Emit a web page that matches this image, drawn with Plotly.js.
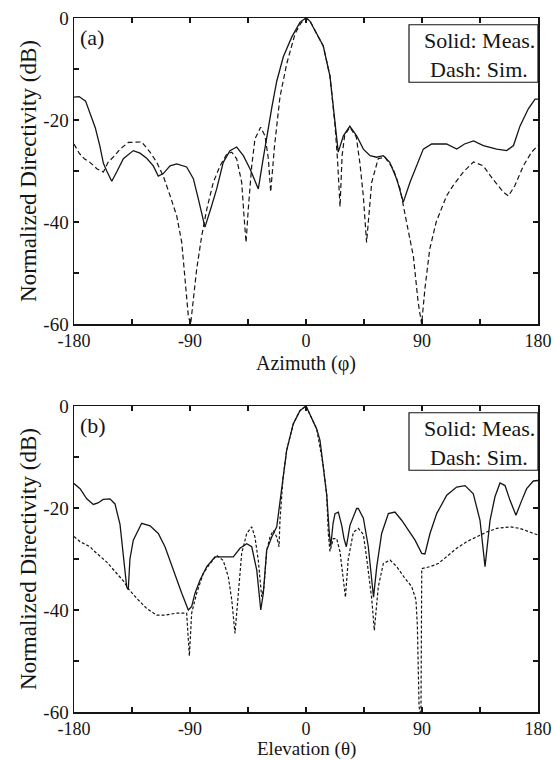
<!DOCTYPE html>
<html>
<head>
<meta charset="utf-8">
<script src="https://cdn.plot.ly/plotly-3.0.1.min.js"></script>
<style>html,body{margin:0;padding:0;background:#fff;}</style>
</head>
<body>
<div id="chart" style="width:555px;height:760px;"></div>
<script>
// ---------- Data ----------
const xAzMeas = [-180,-176,-171,-167.6,-163.5,-160,-157.2,-154.6,-150.7,-146.9,-141.7,-134,-128.8,-123.6,-118.5,-114.6,-110.7,-105.5,-100.3,-92.6,-87.4,-83.5,-78.4,-73.2,-69.3,-64.2,-59,-53.8,-48.6,-43.4,-37,-33.5,-30,-26.5,-22.7,-17.6,-11,-4.6,0,3,8.3,13.4,18.6,22.5,25,29,34,39.3,44.5,49.7,54.8,60,65,70.4,75.5,80.7,86,91,97.5,109,117,123,130,137.6,148,155.7,161,166,172.5,177.7,180];
const yAzMeas = [-15.5,-15.4,-16.3,-18.5,-21.5,-25,-28.5,-30,-32,-30.2,-27.6,-26,-26.5,-27.5,-29,-31,-30.5,-29,-28.6,-29.2,-31.5,-35.5,-41,-36.8,-33.5,-28.3,-26,-25.3,-27,-29.6,-33.5,-28,-22.5,-17.5,-12.4,-7.6,-3.7,-0.8,0,-0.6,-3.1,-5.5,-11.4,-21.2,-26.3,-23.1,-21.2,-23.1,-25.7,-27,-27.3,-27,-28.3,-31.6,-36.1,-32.2,-29,-25.7,-24.7,-24.7,-25.7,-24.7,-24.1,-25,-25.7,-26,-25,-21.2,-17.8,-15.9,-15.9];

const xAzSim = [-180,-176,-172,-167.6,-162,-157.2,-153.6,-148.5,-144.3,-137.8,-127.5,-121,-115.8,-110.7,-105.5,-100.3,-96.4,-93.9,-91.3,-89.5,-87.4,-84.8,-80.9,-77,-71.9,-66.7,-61.5,-57.6,-53.8,-49.9,-48.1,-46.5,-44.8,-42.1,-39.6,-35.2,-31.8,-29.2,-27.4,-25.8,-24.5,-20.2,-15,-8.5,-4,0,3,8.3,13.4,18.6,22.5,24.5,26.4,28,30,34,39,41.9,44.5,47,49,51,56,61.3,67.7,73,78,83.3,87,89.7,92.3,96,101,109,114,122,130,137.6,145,153,157,162,168.6,175,180];
const yAzSim = [-24.7,-26.5,-27.6,-28.3,-29.6,-30.2,-28.3,-27,-25.7,-24.4,-24.3,-26.3,-28.3,-31,-34.8,-38.8,-44,-50.6,-58.4,-60,-55.7,-49.2,-42.7,-37.5,-32.2,-29,-26.7,-26.3,-27.6,-32.2,-38.8,-44,-37.5,-29,-23.7,-21.4,-23.1,-27.6,-34.1,-29.6,-25.3,-15.5,-9,-3.1,-1,0,-0.5,-3.1,-5.5,-11.4,-21,-28,-37,-27,-23,-21.4,-23.3,-28.6,-35,-44,-38,-32.2,-27.6,-27.3,-29.6,-33.5,-40,-46.7,-55.7,-60,-53,-45.3,-40,-34.9,-32.9,-30.2,-28.2,-29,-31.6,-34.1,-34.9,-32.9,-29,-26.3,-25];

const xElMeas = [-180,-175.3,-170.1,-165,-161.4,-157.3,-152.1,-148.2,-144.3,-141.7,-139.1,-137.9,-136.6,-134,-127.5,-121,-114.6,-109.4,-103,-96.4,-91.3,-88.7,-86.1,-82.2,-77,-70.6,-65.4,-56.4,-51.2,-46,-42.1,-38.2,-35.1,-33.1,-30.5,-26.6,-22.7,-18.9,-15,-9.9,-4.7,0,3.1,8.3,10.9,13.4,16.1,18.1,19.2,21,22.5,25.1,27.7,29.5,31.3,34.1,35.5,39.3,40.6,44.5,48.3,51,52.4,54.9,58.7,63.9,69,74.2,79.4,84.6,89.8,92.3,96.2,101.4,109.2,116.9,123.4,129.8,135,138.9,142.8,146.6,150.5,154.4,158.3,162.9,167.4,171.2,176.4,180];
const yElMeas = [-15.2,-16.2,-18.2,-19.3,-19,-18.3,-18.2,-19.2,-23.2,-29,-35.5,-36,-30,-26.3,-23,-23.5,-25,-27.6,-32.2,-36.7,-40,-39.3,-36.7,-34.1,-31.5,-29.6,-29.6,-29.6,-27.9,-27,-27.6,-32.2,-40,-36.7,-28.3,-25.7,-23.7,-15.9,-8.7,-3.5,-0.9,0,-1.6,-4.5,-6.8,-11.7,-17.5,-25,-27.5,-23,-21.1,-20.8,-23.4,-26,-27.6,-23.4,-22.4,-20.1,-20.1,-22,-27.5,-35,-37.5,-31.5,-25,-21.1,-20.8,-22.4,-24.4,-26.3,-28.9,-29,-25,-21.1,-17.5,-15.9,-15.6,-17.2,-22.4,-31.5,-22.4,-17.8,-15.1,-15.6,-18.5,-21.4,-18.5,-16.2,-14.7,-14.6];

const xElSim = [-180,-175.3,-167.6,-165,-154.6,-146.9,-141.7,-137.9,-131.4,-123.6,-115.8,-109.4,-100.3,-92.6,-90.5,-88.7,-84.8,-79.7,-74.5,-69.3,-64.2,-60.3,-57.6,-55.1,-52.5,-49.9,-46,-42.1,-39.6,-37,-34.4,-32.6,-30.5,-27.9,-25.4,-22.7,-20.9,-20.2,-17.8,-15,-9.9,-4.7,0,3.1,8.3,13.4,16.1,17.3,18.6,21.2,23.8,26.4,28.9,30.6,32.8,36.7,40.6,44.5,47.1,51,53,56.1,60,65.2,70.4,76.8,82,85.3,86.4,87.7,88.4,89.2,89.8,96.2,102.6,109.2,116.9,124.7,132.4,140.2,148,158.3,166,173.8,180];
const yElSim = [-25.6,-26.6,-27.6,-28.3,-30.6,-32.8,-34.3,-35.8,-37.7,-39.7,-41,-41,-40.6,-40.6,-49,-40.6,-36.7,-32.8,-30.9,-29.3,-30.3,-33.5,-38,-44.6,-36.7,-28.9,-25,-23.7,-25.7,-30.3,-37.4,-35.5,-28.3,-25.7,-24.4,-25.7,-27.6,-22.4,-14,-8.7,-3.5,-0.9,0,-1.6,-4.5,-11.7,-17.5,-25,-28.5,-26,-26,-28.6,-33.8,-37.5,-30,-24.8,-24,-25.2,-29.9,-37.8,-44,-35.4,-30.9,-30.2,-31.5,-33.8,-35.4,-38,-43,-58.8,-60,-60,-31.9,-31.5,-30.9,-29.6,-27.9,-26.6,-25.7,-24.7,-24,-23.7,-24,-24.7,-25.3];

const xTickVals = [-180,-135,-90,-45,0,45,90,135,180];
const xTickText = ['-180','','-90','','0','','90','','180'];
const yTickVals = [-60,-50,-40,-30,-20,-10,0];
const yTickText = ['-60','','-40','','-20','','0'];
const legendLines = ['Solid: Meas.','Dash: Sim.'];
const panelLabels = ['(a)','(b)'];
const xTitles = ['Azimuth (φ)','Elevation (θ)'];
const yTitle = 'Normalized Directivity (dB)';

// ---------- Traces ----------
const ink = '#151515';
const FONT = 'Liberation Serif, Times New Roman, Times, serif';
const traces = [
  {x:xAzMeas, y:yAzMeas, xaxis:'x', yaxis:'y', mode:'lines', line:{color:ink, width:1.3}},
  {x:xAzSim, y:yAzSim, xaxis:'x', yaxis:'y', mode:'lines', line:{color:ink, width:1.2, dash:'5px,3px'}},
  {x:xElMeas, y:yElMeas, xaxis:'x2', yaxis:'y2', mode:'lines', line:{color:ink, width:1.3}},
  {x:xElSim, y:yElSim, xaxis:'x2', yaxis:'y2', mode:'lines', line:{color:ink, width:1.2, dash:'3px,2px'}}
];

function xAx(anchor){
  return {anchor:anchor, domain:[0,1], range:[-180,180], tickvals:xTickVals, ticktext:xTickText,
    ticks:'inside', ticklen:5, tickwidth:1.2, tickcolor:ink, mirror:'ticks', showline:true,
    linecolor:ink, linewidth:1.5, showgrid:false, zeroline:false,
    tickfont:{family:FONT, size:18, color:ink}};
}
function yAx(anchor, domain){
  return {anchor:anchor, domain:domain, range:[-60,0], tickvals:yTickVals, ticktext:yTickText,
    ticks:'inside', ticklen:5, tickwidth:1.2, tickcolor:ink, mirror:'ticks', showline:true,
    linecolor:ink, linewidth:1.5, showgrid:false, zeroline:false,
    tickfont:{family:FONT, size:19, color:ink},
    title:{text:yTitle, font:{family:FONT, size:23, color:ink}, standoff:0}};
}

const shapes = [];
const annotations = [];
const xTitleY = [-0.128, -0.121];
const xTitleSize = [20, 19];
[['x','y'],['x2','y2']].forEach((ax,i)=>{
  const xr = ax[0]+' domain', yr = ax[1]+' domain';
  shapes.push({type:'rect', xref:xr, yref:yr, x0:0.722, x1:1.0, y0:0.79, y1:0.978,
    line:{color:ink, width:1.2}, fillcolor:'white'});
  annotations.push({xref:xr, yref:yr, x:0.873, y:0.925, text:legendLines[0], showarrow:false,
    xanchor:'center', yanchor:'middle', font:{family:FONT, size:22, color:ink}});
  annotations.push({xref:xr, yref:yr, x:0.873, y:0.833, text:legendLines[1], showarrow:false,
    xanchor:'center', yanchor:'middle', font:{family:FONT, size:22, color:ink}});
  annotations.push({xref:xr, yref:yr, x:0.008, y:0.935, text:panelLabels[i], showarrow:false,
    xanchor:'left', yanchor:'middle', font:{family:FONT, size:22, color:ink}});
  annotations.push({xref:xr, yref:yr, x:0.5, y:xTitleY[i], text:xTitles[i], showarrow:false,
    xanchor:'center', yanchor:'middle', font:{family:FONT, size:xTitleSize[i], color:ink}});
});

const layout = {
  width:555, height:760,
  margin:{l:74, r:17, t:18, b:48},
  paper_bgcolor:'white', plot_bgcolor:'white',
  showlegend:false,
  font:{family:FONT, size:19, color:ink},
  xaxis:xAx('y'),
  yaxis:yAx('x', [0.559,1]),
  xaxis2:xAx('y2'),
  yaxis2:yAx('x2', [0,0.4409]),
  shapes:shapes,
  annotations:annotations
};

Plotly.newPlot('chart', traces, layout, {displayModeBar:false, staticPlot:true});
</script>
</body>
</html>
